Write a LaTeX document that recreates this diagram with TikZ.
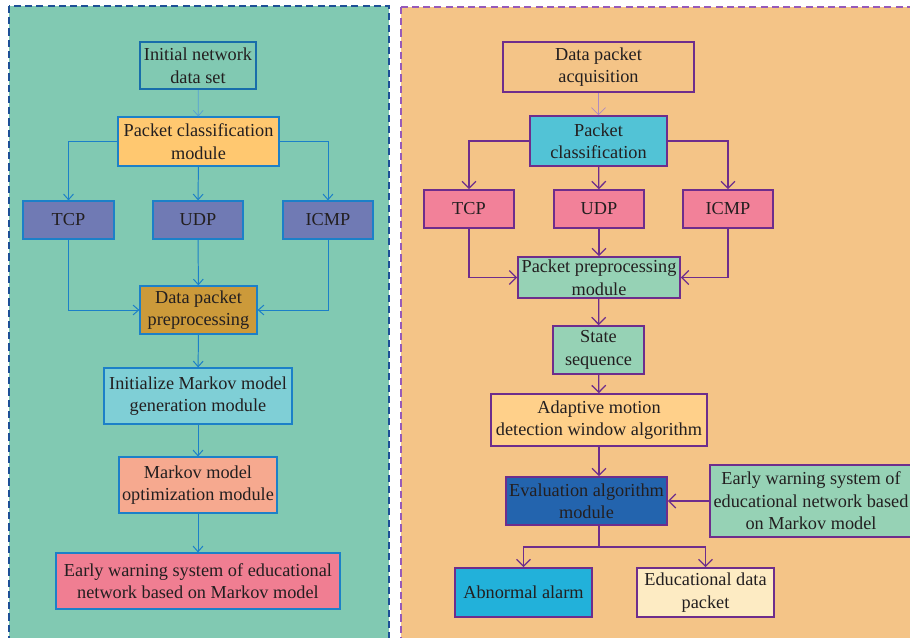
\documentclass[tikz,border=0pt]{standalone}
\usepackage{fontspec}
\setmainfont{Liberation Serif}
\usetikzlibrary{arrows.meta}
\definecolor{leftbg}{RGB}{129,201,178}
\definecolor{leftedge}{RGB}{30,80,150}
\definecolor{rightbg}{RGB}{244,196,135}
\definecolor{rightedge}{RGB}{150,90,185}
\definecolor{lblue}{RGB}{28,128,200}
\definecolor{rpurple}{RGB}{110,45,140}
\definecolor{textcol}{RGB}{35,31,32}

\begin{document}
\begin{tikzpicture}[x=0.025cm, y=-0.025cm,
	box/.style={draw, align=center, inner sep=1pt, text=textcol, font=\fontsize{13}{16}\selectfont},
	lbox/.style={box, draw=lblue, line width=0.8pt},
	rbox/.style={box, draw=rpurple, line width=1.1pt},
	larr/.style={draw=lblue, line width=0.7pt, -{Straight Barb[length=4pt,width=7pt]}},
	rarr/.style={draw=rpurple, line width=0.9pt, -{Straight Barb[length=5pt,width=10pt]}}]
		%%%%% START %%%%%
		
		\useasboundingbox (0, 0) rectangle (910, 638);
		\clip (0, 0) rectangle (910, 638);
		\fill[white] (0, 0) rectangle (910, 638);
		
		% left panel
		\draw[fill=leftbg, draw=leftedge, line width=0.8pt, dash pattern=on 5pt off 3pt] (9, 6) rectangle (389, 650);
		
		\node[lbox, fill=leftbg, draw=lblue!85!black, line width=1.5pt, minimum width=2.9cm, minimum height=1.175cm] (init) at (198, 65.5) {Initial network\\data set};
		\node[lbox, fill={rgb,255:red,255;green,200;blue,112}, minimum width=4.025cm, minimum height=1.225cm] (pclass) at (198.5, 141.5) {Packet classification\\module};
		
		\node[lbox, fill={rgb,255:red,112;green,122;blue,180}, minimum width=2.275cm, minimum height=0.95cm] (tcpL) at (68.5, 220) {TCP};
		\node[lbox, fill={rgb,255:red,112;green,122;blue,180}, minimum width=2.25cm, minimum height=0.95cm] (udpL) at (198, 220) {UDP};
		\node[lbox, fill={rgb,255:red,112;green,122;blue,180}, minimum width=2.25cm, minimum height=0.95cm] (icmpL) at (328, 220) {ICMP};
		
		\node[lbox, fill={rgb,255:red,204;green,154;blue,58}, minimum width=2.925cm, minimum height=1.2cm] (dpp) at (198.5, 310) {Data packet\\preprocessing};
		\node[lbox, fill={rgb,255:red,127;green,207;blue,214}, minimum width=4.7cm, minimum height=1.4cm] (initM) at (198, 396) {Initialize Markov model\\generation module};
		\node[lbox, fill={rgb,255:red,246;green,169;blue,143}, minimum width=3.95cm, minimum height=1.4cm] (optM) at (198, 485) {Markov model\\optimization module};
		\node[lbox, fill={rgb,255:red,240;green,126;blue,146}, minimum width=7.1cm, minimum height=1.4cm] (warnL) at (198, 581) {Early warning system of educational\\network based on Markov model};
		
		\draw[larr, draw=lblue!75, line width=0.5pt] (init) -- (pclass);
		\draw[larr] (pclass.west) -| (tcpL.north);
		\draw[larr] (pclass) -- (udpL);
		\draw[larr] (pclass.east) -| (icmpL.north);
		\draw[larr] (tcpL.south) |- (dpp.west);
		\draw[larr] (udpL) -- (dpp);
		\draw[larr] (icmpL.south) |- (dpp.east);
		\draw[larr] (dpp) -- (initM);
		\draw[larr] (initM) -- (optM);
		\draw[larr] (optM) -- (warnL);
		
		% right panel
		\draw[fill=rightbg, draw=rightedge, line width=0.8pt, dash pattern=on 5pt off 3pt] (401, 7) rectangle (920, 650);
		
		\node[rbox, fill=rightbg, minimum width=4.775cm, minimum height=1.25cm] (acq) at (598.5, 67) {Data packet\\acquisition};
		\node[rbox, fill={rgb,255:red,82;green,195;blue,214}, minimum width=3.425cm, minimum height=1.25cm] (pclassR) at (598.5, 141) {Packet\\classification};
		
		\node[rbox, fill={rgb,255:red,242;green,129;blue,153}, minimum width=2.25cm, minimum height=0.95cm] (tcpR) at (469, 209) {TCP};
		\node[rbox, fill={rgb,255:red,242;green,129;blue,153}, minimum width=2.25cm, minimum height=0.95cm] (udpR) at (599, 209) {UDP};
		\node[rbox, fill={rgb,255:red,242;green,129;blue,153}, minimum width=2.25cm, minimum height=0.95cm] (icmpR) at (728, 209) {ICMP};
		
		\node[rbox, fill={rgb,255:red,150;green,210;blue,181}, minimum width=4.05cm, minimum height=1.025cm] (ppm) at (599, 277.5) {Packet preprocessing\\module};
		\node[rbox, fill={rgb,255:red,150;green,210;blue,181}, minimum width=2.275cm, minimum height=1.2cm] (state) at (598.5, 350) {State\\sequence};
		\node[rbox, fill={rgb,255:red,255;green,208;blue,138}, minimum width=5.4cm, minimum height=1.3cm] (adapt) at (599, 420) {Adaptive motion\\detection window algorithm};
		\node[rbox, fill={rgb,255:red,35;green,100;blue,174}, minimum width=4.025cm, minimum height=1.2cm] (eval) at (586.5, 501) {Evaluation algorithm\\module};
		\node[rbox, fill={rgb,255:red,150;green,210;blue,181}, minimum width=5.05cm, minimum height=1.8cm] (warnR) at (811, 501) {Early warning system of\\educational network based\\on Markov model};
		
		\node[rbox, fill={rgb,255:red,34;green,177;blue,218}, minimum width=3.425cm, minimum height=1.225cm] (alarm) at (523.5, 592.5) {Abnormal alarm};
		\node[rbox, fill={rgb,255:red,253;green,235;blue,195}, minimum width=3.425cm, minimum height=1.225cm] (edu) at (705.5, 592.5) {Educational data\\packet};
		
		\coordinate (split) at (599, 547);
		
		\draw[rarr, draw=rpurple!55, line width=0.5pt] (acq) -- (pclassR);
		\draw[rarr] (pclassR.west) -| (tcpR.north);
		\draw[rarr] (pclassR) -- (udpR);
		\draw[rarr] (pclassR.east) -| (icmpR.north);
		\draw[rarr] (tcpR.south) |- (ppm.west);
		\draw[rarr] (udpR) -- (ppm);
		\draw[rarr] (icmpR.south) |- (ppm.east);
		\draw[rarr] (ppm) -- (state);
		\draw[rarr] (state) -- (adapt);
		\draw[rarr] (adapt.south) -- (adapt.south |- eval.north);
		\draw[rarr] (warnR.west) -- (eval.east);
		\draw[draw=rpurple, line width=0.9pt] (split |- eval.south) -- (split);
		\draw[rarr] (split) -| (alarm.north);
		\draw[rarr] (split) -| (edu.north);
		
		%%%%% END %%%%%
	\end{tikzpicture}
\end{document}
